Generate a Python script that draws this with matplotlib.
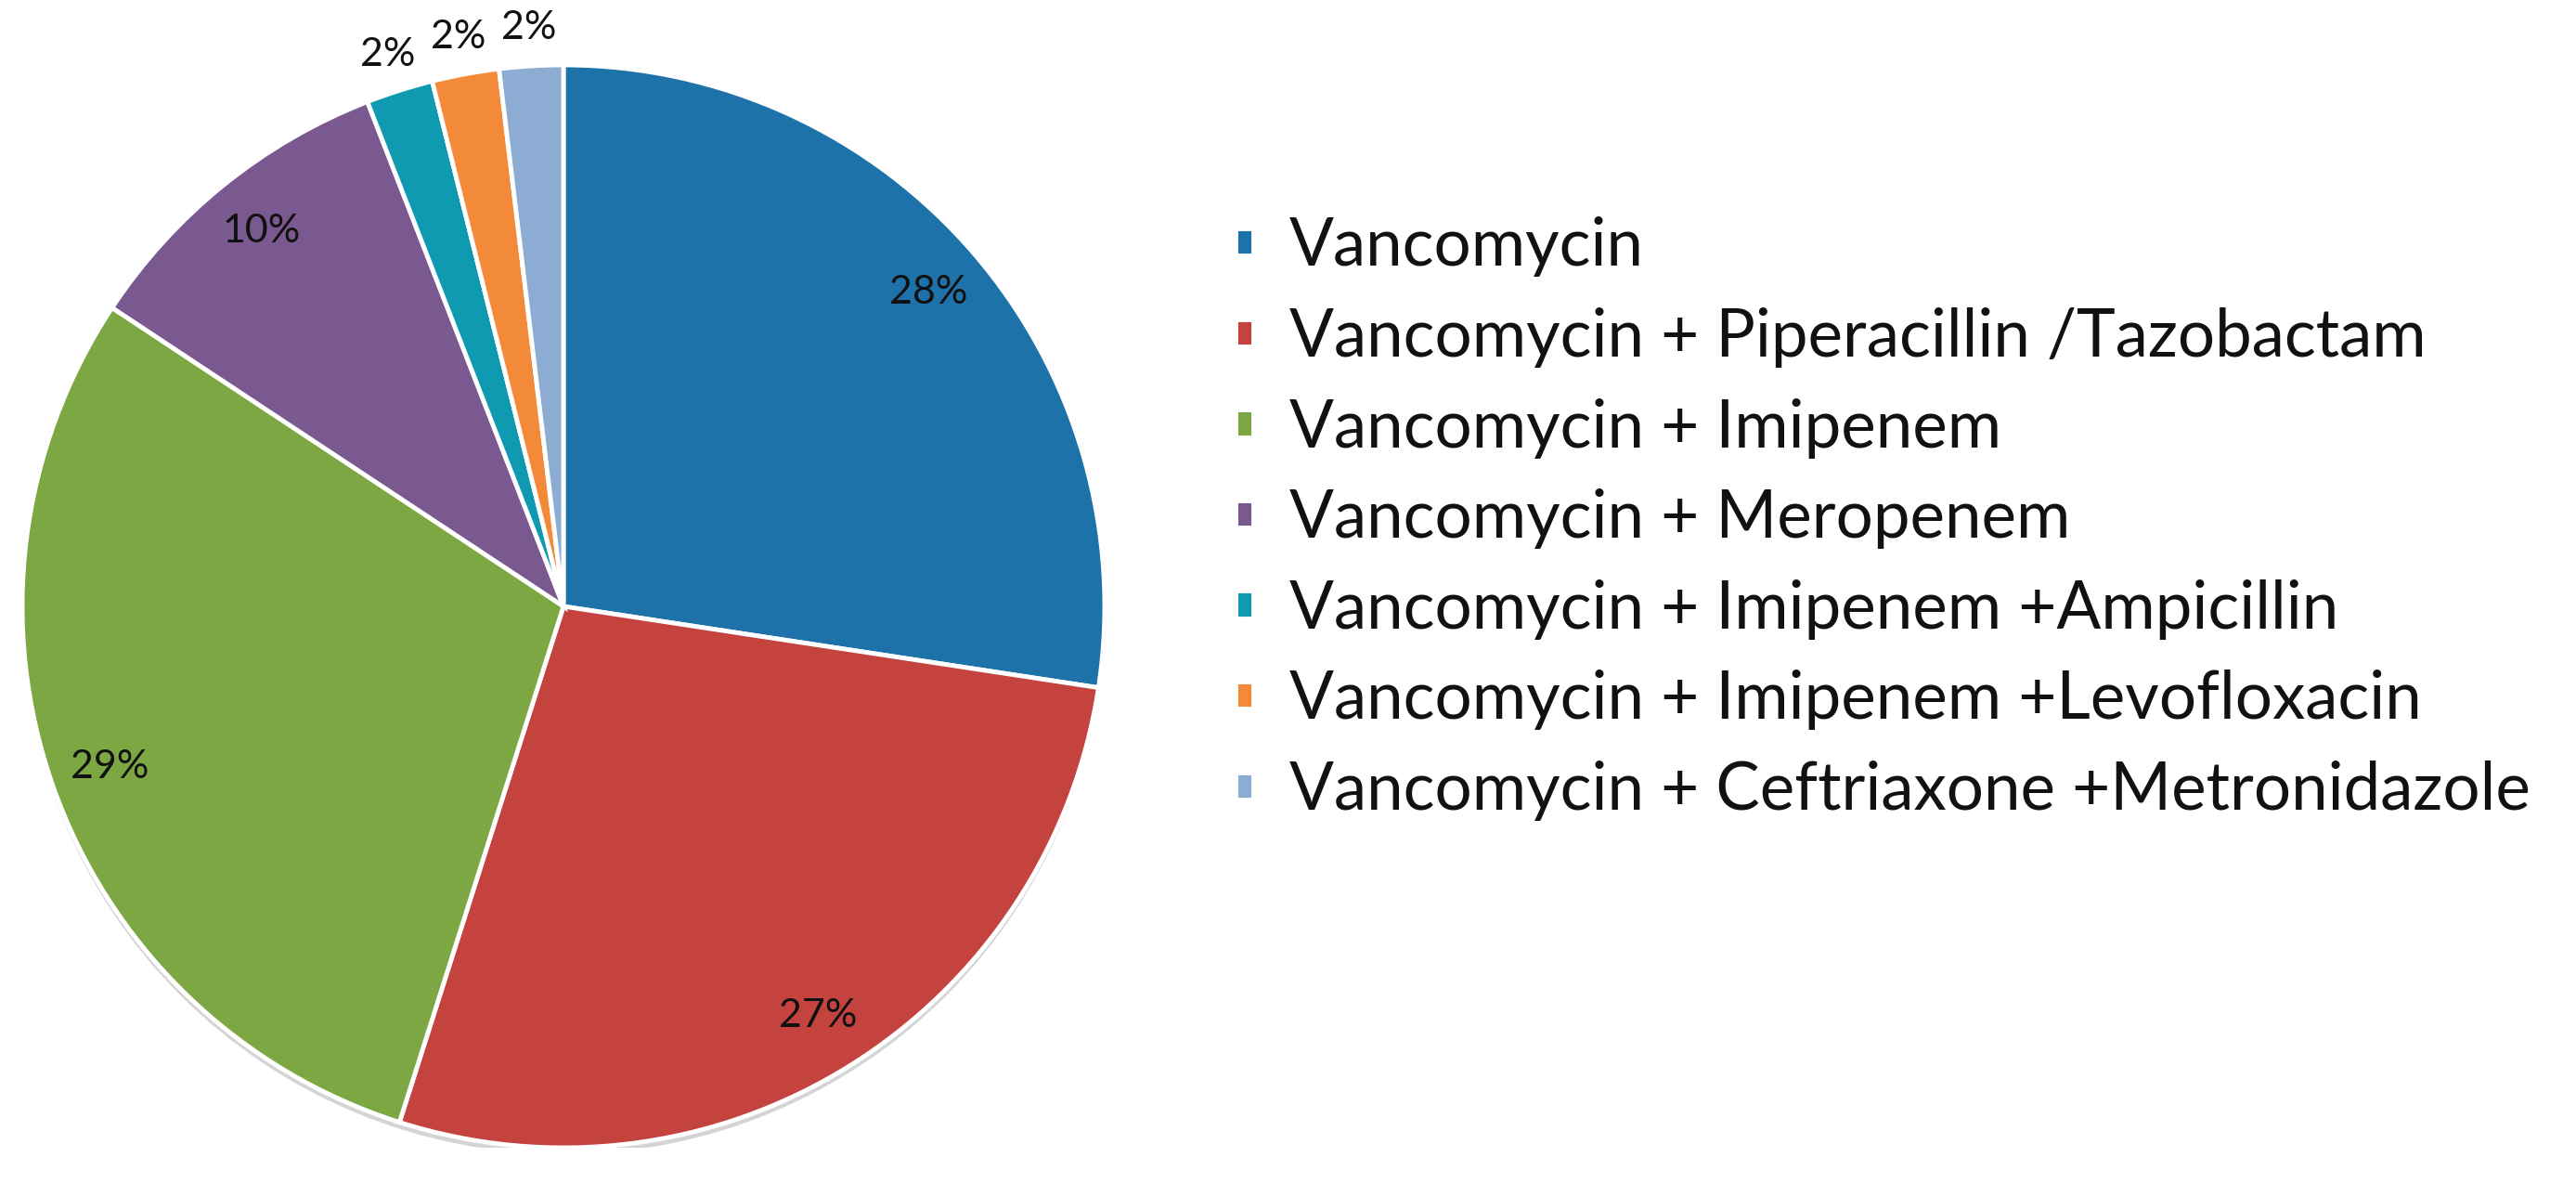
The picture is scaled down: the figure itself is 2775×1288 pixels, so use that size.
import matplotlib
matplotlib.use("Agg")
import matplotlib.pyplot as plt
from matplotlib.patches import Circle
import numpy as np

categories = [
    "Vancomycin",
    "Vancomycin + Piperacillin /Tazobactam",
    "Vancomycin + Imipenem",
    "Vancomycin + Meropenem",
    "Vancomycin + Imipenem +Ampicillin",
    "Vancomycin + Imipenem +Levofloxacin",
    "Vancomycin + Ceftriaxone +Metronidazole",
]
shares = [27.4, 27.5, 29.4, 9.8, 2.0, 2.0, 1.9]
pct_labels = ["28%", "27%", "29%", "10%", "2%", "2%", "2%"]
colors = ["#1D72A9", "#C4433F", "#7DA743", "#7A5890", "#0F9AB1", "#F38A39", "#8CACD4"]

W, H = 2775, 1288
fig = plt.figure(figsize=(W / 100, H / 100), dpi=100)
fig.patch.set_facecolor("white")

cx, cy, r = 607, 653, 583
ax = fig.add_axes([(cx - r) / W, (H - cy - r) / H, 2 * r / W, 2 * r / H])
ax.set_xlim(-1, 1)
ax.set_ylim(-1, 1)
ax.axis("off")

# subtle shadow
ax.add_patch(Circle((0.0, -0.012), 1.0, color="#d4d4d4", zorder=0, lw=0))

wedges, _ = ax.pie(shares, colors=colors, startangle=90, counterclock=False,
                   radius=1.0, wedgeprops=dict(edgecolor="white", linewidth=3.5))
for w in wedges:
    w.set_zorder(1)
ax.set_xlim(-1, 1)
ax.set_ylim(-1, 1)

font = "Lato"
for i, w in enumerate(wedges):
    ang = np.deg2rad((w.theta1 + w.theta2) / 2)
    d = 0.89 if shares[i] > 5 else 1.07
    ax.text(d * np.cos(ang), d * np.sin(ang), pct_labels[i], ha="center", va="center",
            fontsize=31, family=font, color="#111111", zorder=5)

leg = fig.legend(wedges, categories, loc="upper left",
                 bbox_to_anchor=(1303 / W, 1 - 205 / H), frameon=False,
                 prop=dict(family=font, size=51), handlelength=0.26, handleheight=0.26,
                 handletextpad=0.55, labelspacing=0.46, borderaxespad=0)
for t in leg.get_texts():
    t.set_color("#111111")

fig.savefig("out.png", dpi=100, facecolor="white")
